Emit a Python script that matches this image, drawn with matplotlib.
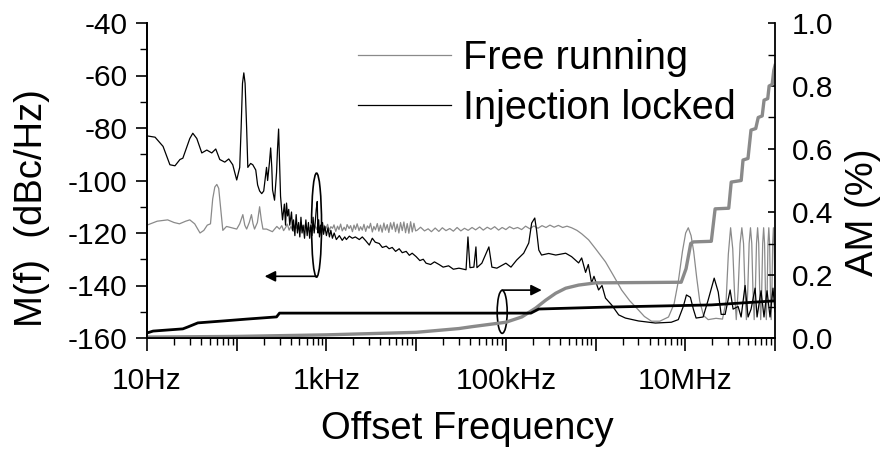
import numpy as np
import matplotlib.pyplot as plt
from matplotlib.patches import Ellipse
from matplotlib.ticker import FixedLocator, FixedFormatter, MultipleLocator, LogLocator, NullFormatter

plt.rcParams['font.family'] = ['Liberation Sans', 'DejaVu Sans']
plt.rcParams['axes.unicode_minus'] = False

# phase noise, free running laser (Hz, dBc/Hz)
fr_pn = [
    (10, -117), (13, -115.5), (17, -115), (20, -116), (23, -116.5), (27, -115.5), (30, -115),
    (34, -116.5), (39, -120), (43, -119), (47, -117), (51, -116.5), (54, -107), (57, -102.5),
    (60, -101.5), (63, -103), (66, -110), (70, -119), (77, -117.5), (88, -118), (100, -118.5),
    (108, -116.5), (117, -113), (123, -117), (129, -118.5), (138, -116), (146, -113), (152, -116.5),
    (158, -118.5), (170, -116), (180, -110), (188, -115), (196, -118.5), (215, -118.5), (250, -119.5),
    (280, -117.5), (300, -118.5), (318, -117.2), (333, -119.1), (352, -117.8), (366, -116.6),
    (384, -118.9), (402, -117.5), (425, -119.4), (446, -117), (463, -118.2), (487, -116.8),
    (510, -119.2), (528, -117.9), (556, -118.8), (580, -116.9), (606, -119.5), (631, -117.6),
    (660, -118.4), (688, -116.5), (712, -119), (745, -117.3), (778, -118.6), (805, -116.4),
    (842, -119.3), (876, -117.7), (905, -119.6), (947, -117.1), (985, -118.5), (1030, -116.7),
    (1075, -119.1), (1120, -117.6), (1170, -118.2), (1215, -116.9), (1270, -119.4), (1330, -117.4),
    (1380, -118.7), (1440, -116.6), (1500, -119.2), (1575, -117.8), (1640, -119), (1700, -116.8),
    (1790, -118.3), (1860, -117.2), (1950, -119.5), (2030, -117), (2110, -118.6), (2200, -116.5),
    (2310, -119.1), (2400, -117.6), (2510, -118.9), (2620, -116.7), (2740, -119.4), (2860, -117.3),
    (2990, -118.2), (3100, -116.3), (3250, -119.6), (3380, -117.5), (3520, -118.8), (3690, -116.4),
    (3840, -119.3), (4000, -117), (4180, -119.7), (4370, -116.2), (4550, -118.9), (4760, -116.8),
    (4960, -119.8), (5180, -116.1), (5400, -118.6), (5650, -115.9), (5890, -119.5), (6150, -116.6),
    (6420, -120), (6700, -116), (7000, -119.1), (7300, -115.8), (7620, -119.9), (7950, -116.4),
    (8300, -120.1), (8680, -115.7), (9050, -119.6), (9450, -116.3), (9870, -119.2), (10300, -118.9),
    (11200, -117.8), (12400, -119.2), (13600, -118.4), (14800, -119.5), (16300, -118.1),
    (17900, -119.4), (19600, -118), (21500, -119.1), (23700, -118.3), (26000, -119.3),
    (28600, -117.9), (31500, -119.2), (34600, -118.2), (38000, -119), (42000, -117.9), (46000, -118.8),
    (51000, -117.7), (56000, -118.9), (62000, -117.8), (68000, -118.6), (75000, -117.6), (83000, -118.9),
    (91000, -117.9), (100000, -118.7), (110000, -117.6), (122000, -118.4), (135000, -117.9),
    (150000, -118.7), (166000, -117.4), (185000, -118.4), (205000, -117.3), (228000, -118.2),
    (253000, -117.2), (280000, -117.9), (310000, -117), (345000, -117.8), (385000, -117.1),
    (430000, -117.9), (480000, -117.4), (540000, -118), (620000, -119), (700000, -120.3),
    (836000, -122.6), (1.0e6, -126), (1.29e6, -131), (1.6e6, -136.5), (1.95e6, -141.7),
    (2.4e6, -145.8), (3.0e6, -149.3), (3.5e6, -151.8), (4.2e6, -153.6), (5.2e6, -153.6),
    (6.5e6, -152), (7.5e6, -147), (8.4e6, -138), (9.3e6, -127), (10.1e6, -120), (10.8e6, -118),
    (11.6e6, -121), (12.4e6, -127), (13.4e6, -137), (14.5e6, -146), (16e6, -151.5), (18e6, -153),
    (22e6, -152.5), (26e6, -152.8), (28.5e6, -146), (30.2e6, -128), (32e6, -118), (33.8e6, -126),
    (35.3e6, -142), (37e6, -153), (38.8e6, -142), (40.8e6, -124), (42.7e6, -118), (44.6e6, -124),
    (46.3e6, -142), (48e6, -153), (49.7e6, -142), (51.5e6, -124), (53.3e6, -118), (55.1e6, -124),
    (56.8e6, -142), (58.6e6, -153), (60.4e6, -142), (62.2e6, -124), (64e6, -118), (65.8e6, -124),
    (67.5e6, -142), (69.3e6, -153), (71.1e6, -142), (72.9e6, -124), (74.7e6, -118), (76.5e6, -124),
    (78.2e6, -142), (80e6, -153), (81.8e6, -142), (83.5e6, -124), (85.3e6, -118), (87.1e6, -124),
    (88.8e6, -142), (90.6e6, -153), (92.4e6, -142), (94.2e6, -124), (96e6, -118), (97.8e6, -124),
    (100e6, -145),
]

# phase noise, injection locked laser (Hz, dBc/Hz)
il_pn = [
    (10, -83), (12.3, -83.5), (15.1, -87), (18, -94), (20.5, -94.4), (23.3, -92), (25.1, -91.5),
    (30, -84), (32.4, -82), (35.9, -84), (40.8, -89.5), (46.4, -88.4), (52.7, -89.5), (58.4, -88),
    (64.7, -92), (73.6, -93), (81.5, -91.8), (90.3, -94), (100, -99.8), (108, -95), (112, -80),
    (116, -63), (120, -59), (124, -63), (129, -80), (133, -95), (143, -93.5), (151, -94), (163, -96),
    (171, -101.7), (180, -104), (190, -105), (200, -104), (215, -95), (221, -100), (232, -93),
    (239, -87.6), (246, -95), (251, -103.6), (264, -107.5), (278, -97), (285, -88), (293, -80.4),
    (300, -92), (308, -106), (324, -115), (340, -109), (350, -117), (359, -108.6), (369, -113.5),
    (380, -111), (390, -117), (408, -112), (420, -119), (430, -115), (445, -121), (460, -113),
    (475, -120), (490, -116), (505, -121.5), (520, -114), (535, -120), (550, -117), (570, -122),
    (590, -115), (610, -121), (630, -116), (650, -122), (670, -117), (690, -121), (710, -114),
    (730, -120), (750, -116), (770, -111), (790, -108), (805, -120), (820, -115), (836, -121.5),
    (860, -117), (880, -121), (905, -116), (930, -120.5), (960, -117.5), (1000, -121), (1040, -118),
    (1080, -121.5), (1120, -119), (1166, -122), (1220, -120), (1290, -122.5), (1394, -121),
    (1500, -122.8), (1600, -121.5), (1668, -122.5), (1800, -121.2), (1945, -122), (2100, -121.5),
    (2326, -122.5), (2512, -121.5), (2750, -123), (3005, -124.6), (3246, -122), (3500, -123.5),
    (3880, -124), (4200, -125.5), (4642, -125), (5000, -126), (5412, -125.5), (5900, -127),
    (6470, -126), (7000, -127.5), (7743, -127), (8400, -128.5), (9030, -127.7), (10000, -129),
    (11000, -130.5), (12000, -130), (12900, -131.5), (14500, -132), (16000, -131), (18000, -132),
    (20000, -133), (23000, -132.5), (26000, -133.8), (30000, -133.4), (36000, -134), (37800, -121.5),
    (39800, -133.2), (44000, -133), (46400, -125.3), (47600, -133.2), (54000, -131.5),
    (64700, -125.3), (69900, -133), (79400, -133.4), (100000, -131.5), (114000, -133),
    (132000, -130.3), (158000, -127.7), (180000, -123.8), (194000, -116.2), (210000, -114.3),
    (220000, -119), (233000, -126.5), (250000, -128.4), (300000, -127.8), (360000, -128.4),
    (464000, -127.7), (540000, -129), (647000, -131.4), (700000, -129.5), (774000, -135),
    (830000, -132), (903000, -139), (960000, -136.5), (1.08e6, -141.7), (1.18e6, -140),
    (1.29e6, -144.8), (1.51e6, -147.4), (1.81e6, -151.2), (2.15e6, -152.4), (3.0e6, -153.5),
    (4.64e6, -154.3), (6.98e6, -154), (8.36e6, -153), (9.5e6, -148), (10.3e6, -143.6),
    (11.4e6, -144.5), (12.3e6, -149), (13.2e6, -152.4), (15.8e6, -152), (18e6, -145.5),
    (21e6, -137.2), (23.3e6, -142.5), (25.1e6, -151), (27.8e6, -151), (31.6e6, -141.7),
    (34.1e6, -149), (38.8e6, -148), (41.9e6, -152), (46.4e6, -140), (50.1e6, -152), (54.1e6, -149),
    (60e6, -141), (63.1e6, -152), (69.9e6, -142), (75.4e6, -152), (81.5e6, -142), (88e6, -152),
    (95e6, -141), (100e6, -150),
]

# integrated AM noise (Hz, %)
fr_am = [
    (10, 0.003), (100, 0.005), (1000, 0.01), (10000, 0.018), (30000, 0.03), (42000, 0.036),
    (100000, 0.05), (151000, 0.067), (215000, 0.095), (278000, 0.12), (359000, 0.142),
    (464000, 0.158), (647000, 0.168), (1e6, 0.175), (9e6, 0.177), (10.2e6, 0.22), (11.5e6, 0.3),
    (12.3e6, 0.305), (19.5e6, 0.307), (21.5e6, 0.41), (30.5e6, 0.412), (32.5e6, 0.495),
    (42e6, 0.5), (44e6, 0.565), (50e6, 0.57), (54e6, 0.66), (61e6, 0.665), (65e6, 0.7),
    (72e6, 0.705), (75.5e6, 0.755), (83e6, 0.76), (86e6, 0.8), (93e6, 0.805), (97e6, 0.85),
    (100e6, 0.865),
]
il_am = [
    (10, 0.016), (11.7, 0.022), (25.1, 0.029), (28.5, 0.035), (36.9, 0.048), (69.9, 0.054),
    (129, 0.06), (278, 0.067), (300, 0.079), (30000, 0.079), (190000, 0.079), (233000, 0.092),
    (1.29e6, 0.098), (19.5e6, 0.105), (100e6, 0.118),
]

xtick_vals = [10, 100, 1e3, 1e4, 1e5, 1e6, 1e7, 1e8]
xtick_labels = ['10Hz', '', '1kHz', '', '100kHz', '', '10MHz', '']

gray = '#8a8a8a'

fig = plt.figure(figsize=(8.86, 4.49), dpi=100)
ax = fig.add_axes([147 / 886, 1 - 338 / 449, 628 / 886, 315 / 449])
ax2 = ax.twinx()

f, v = np.array(fr_pn).T
l1, = ax.plot(f, v, color=gray, lw=0.9)
f, v = np.array(il_pn).T
l2, = ax.plot(f, v, color='black', lw=0.9)
f, v = np.array(fr_am).T
ax2.plot(f, v, color=gray, lw=2.4)
f, v = np.array(il_am).T
ax2.plot(f, v, color='black', lw=2.0)

ax.set_xscale('log')
ax.set_xlim(10, 1e8)
ax.set_ylim(-160, -40)
ax2.set_ylim(0, 1.0)

ax.xaxis.set_major_locator(FixedLocator(xtick_vals))
ax.xaxis.set_major_formatter(FixedFormatter(xtick_labels))
ax.xaxis.set_minor_locator(LogLocator(base=10, subs=np.arange(2, 10), numticks=20))
ax.xaxis.set_minor_formatter(NullFormatter())
ax.yaxis.set_major_locator(MultipleLocator(20))
ax.yaxis.set_minor_locator(MultipleLocator(10))
ax2.yaxis.set_major_locator(MultipleLocator(0.2))
ax2.yaxis.set_minor_locator(MultipleLocator(0.1))
ax2.yaxis.set_major_formatter(plt.FormatStrFormatter('%.1f'))

ax.tick_params(axis='x', which='major', direction='out', length=9, width=1.2, pad=12, labelsize=21.5)
ax.tick_params(axis='x', which='minor', direction='out', length=5, width=1.0)
ax.tick_params(axis='y', which='major', direction='out', length=8, width=1.2, pad=6, labelsize=21.5)
ax.tick_params(axis='y', which='minor', direction='out', length=5, width=1.0)
ax2.tick_params(axis='y', which='major', direction='in', length=5, width=1.2, pad=12, labelsize=21.5)
ax2.tick_params(axis='y', which='minor', direction='in', length=5, width=1.0)

for a in (ax, ax2):
    a.spines['top'].set_visible(False)
    for s in a.spines.values():
        s.set_linewidth(1.3)
ax.spines['right'].set_visible(False)

ax.set_xlabel('Offset Frequency', fontsize=27.5)
ax.xaxis.set_label_coords(0.51, -0.232)
ax.set_ylabel('M(f)  (dBc/Hz)', fontsize=27.5)
ax.yaxis.set_label_coords(-0.155, 0.413)
ax2.set_ylabel('AM (%)', fontsize=27.5)
ax2.yaxis.set_label_coords(1.111, 0.40)

ax2.legend([l1, l2], ['Free running', 'Injection locked'], loc='upper left',
           bbox_to_anchor=(0.336, 0.95), frameon=False, fontsize=28.5, handlelength=2.35,
           handletextpad=0.3, labelspacing=0.3, borderpad=0, borderaxespad=0)


def ax_frac(a, x, y):
    return (a.transScale + a.transLimits).transform((x, y))


# ellipse + arrow pointing to the left axis
c1 = ax_frac(ax, 776, -117)
ax.add_patch(Ellipse(c1, 10 / 628, 104 / 315, transform=ax.transAxes, fill=False, ec='k', lw=1.2))
ax.annotate('', xy=(205, -136.5), xytext=(776, -136.5),
            arrowprops=dict(arrowstyle='-|>', color='k', lw=1.2, mutation_scale=16, shrinkA=0, shrinkB=0))

# ellipse + arrow pointing to the right axis
c2 = ax_frac(ax2, 91000, 0.083)
ax2.add_patch(Ellipse(c2, 10 / 628, 43 / 315, transform=ax2.transAxes, fill=False, ec='k', lw=1.2))
ax2.annotate('', xy=(251000, 0.152), xytext=(91000, 0.152),
             arrowprops=dict(arrowstyle='-|>', color='k', lw=1.2, mutation_scale=16, shrinkA=0, shrinkB=0))

fig.savefig('out.png', dpi=100)
